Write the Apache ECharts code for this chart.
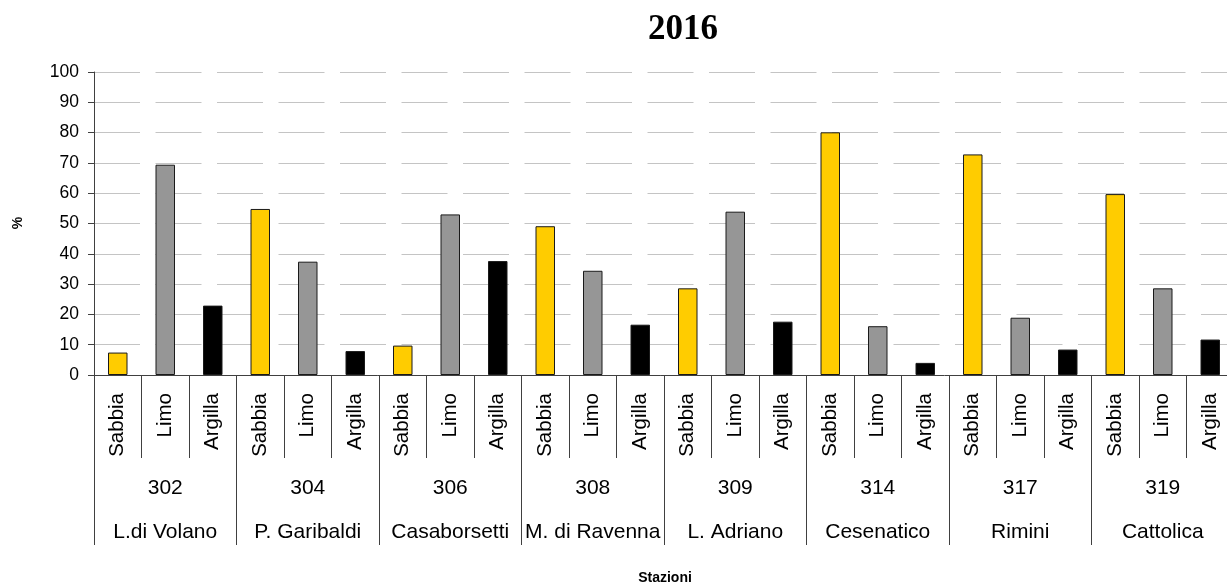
<!DOCTYPE html>
<html>
<head>
<meta charset="utf-8">
<script src="https://cdn.jsdelivr.net/npm/echarts@6/dist/echarts.min.js"></script>
<style>
html,body{margin:0;padding:0;background:#fff;}
#c{width:1227px;height:587px;}
</style>
</head>
<body>
<div id="c"></div>
<script>
var fractions = ['Sabbia', 'Limo', 'Argilla'];
var stationCodes = ['302', '304', '306', '308', '309', '314', '317', '319'];
var stationNames = ['L.di Volano', 'P. Garibaldi', 'Casaborsetti', 'M. di Ravenna', 'L. Adriano', 'Cesenatico', 'Rimini', 'Cattolica'];
var sabbia  = [7.4, 54.8, 9.7, 49.1, 28.6, 80.1, 72.8, 59.7];
var limo    = [69.4, 37.4, 53.0, 34.4, 53.9, 16.1, 18.9, 28.6];
var argilla = [22.9, 7.9, 37.6, 16.6, 17.6, 4.0, 8.4, 11.7];
var yTicks = [0, 10, 20, 30, 40, 50, 60, 70, 80, 90, 100];
var fractionColors = ['#FFCC00', '#969696', '#000000'];

var categories = [];
var values = [];
for (var i = 0; i < stationCodes.length; i++) {
  categories.push(fractions[0], fractions[1], fractions[2]);
  values.push(
    {value: sabbia[i], itemStyle: {color: fractionColors[0]}},
    {value: limo[i], itemStyle: {color: fractionColors[1]}},
    {value: argilla[i], itemStyle: {color: fractionColors[2]}}
  );
}
var groupLabels = stationCodes.map(function (c, i) { return c + '\n' + stationNames[i]; });

var chart = echarts.init(document.getElementById('c'));
chart.setOption({
  animation: false,
  backgroundColor: '#ffffff',
  grid: {left: 94, top: 72, height: 303, width: 1140, containLabel: false, outerBoundsMode: 'none'},
  xAxis: [
    {
      type: 'category',
      data: categories,
      position: 'bottom',
      axisLine: {show: true, lineStyle: {color: '#404040', width: 1}},
      axisTick: {show: true, length: 83, interval: 0, lineStyle: {color: '#404040'}},
      axisLabel: {show: true, interval: 0, rotate: 90, margin: 18, fontSize: 20.5,
        fontFamily: 'Liberation Sans, Arial, sans-serif', color: '#000'},
      splitLine: {show: false}
    },
    {
      type: 'category',
      data: groupLabels,
      position: 'bottom',
      axisLine: {show: false},
      axisTick: {show: true, length: 170, interval: 0, lineStyle: {color: '#404040'}},
      axisLabel: {show: true, interval: 0, margin: 91, fontSize: 21, lineHeight: 44,
        fontFamily: 'Liberation Sans, Arial, sans-serif', color: '#000'},
      splitLine: {show: false}
    }
  ],
  yAxis: {
    type: 'value',
    min: yTicks[0],
    max: yTicks[yTicks.length - 1],
    interval: 10,
    axisLine: {show: true, lineStyle: {color: '#404040'}},
    axisTick: {show: true, length: 6, lineStyle: {color: '#404040'}},
    axisLabel: {margin: 15, fontSize: 17.5, fontFamily: 'Liberation Sans, Arial, sans-serif', color: '#000'},
    splitLine: {show: true, lineStyle: {color: '#c4c4c4', width: 1, type: [46, 15.5]}}
  },
  series: [{
    type: 'bar',
    xAxisIndex: 0,
    data: values,
    barWidth: 19.5,
    itemStyle: {borderColor: '#1a1a1a', borderWidth: 1}
  }],
  graphic: [
    {type: 'text', x: 683, y: 30,
     style: {text: '2016', font: 'bold 35px "Liberation Serif", "Times New Roman", serif',
       fill: '#000', align: 'center', verticalAlign: 'middle', textAlign: 'center', textVerticalAlign: 'middle'}},
    {type: 'text', x: 665, y: 578,
     style: {text: 'Stazioni', font: 'bold 14px "Liberation Sans", Arial, sans-serif',
       fill: '#000', align: 'center', verticalAlign: 'middle', textAlign: 'center', textVerticalAlign: 'middle'}},
    {type: 'text', x: 18, y: 223, rotation: Math.PI / 2,
     style: {text: '%', font: 'bold 14px "Liberation Sans", Arial, sans-serif',
       fill: '#000', align: 'center', verticalAlign: 'middle', textAlign: 'center', textVerticalAlign: 'middle'}}
  ]
});
</script>
</body>
</html>
